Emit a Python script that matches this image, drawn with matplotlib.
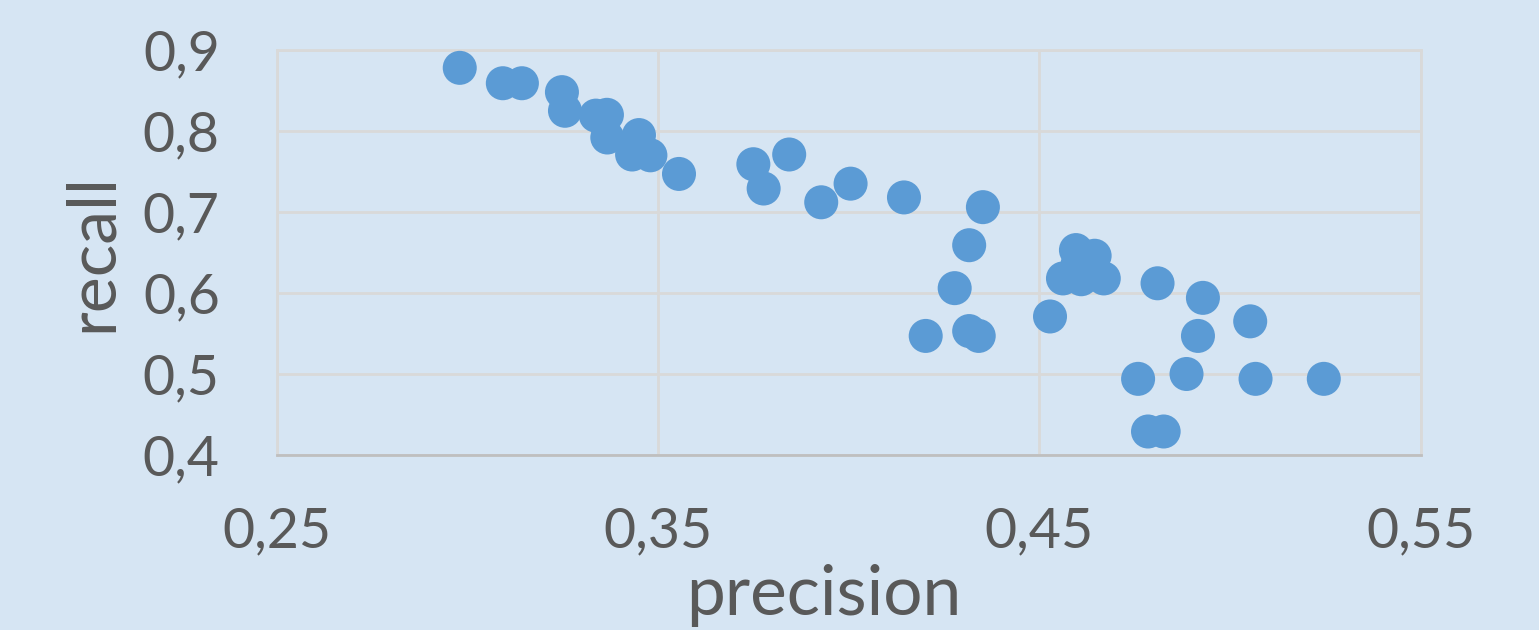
import matplotlib
import matplotlib.pyplot as plt

matplotlib.use("Agg")

precision = [0.298, 0.3093, 0.3143, 0.3248, 0.3256, 0.3337, 0.3366, 0.3367,
             0.345, 0.3432, 0.348, 0.3555,
             0.3750, 0.3844, 0.3777, 0.3928, 0.4005, 0.4145, 0.4352, 0.4316,
             0.4278, 0.4202, 0.4316, 0.4341,
             0.4528, 0.4596, 0.4645, 0.4562, 0.4610, 0.4669, 0.4600,
             0.4810, 0.4929, 0.4916, 0.5053, 0.4759, 0.4886, 0.5067, 0.5246,
             0.4785, 0.4826]
recall = [0.878, 0.859, 0.859, 0.848, 0.825, 0.819, 0.820, 0.792,
          0.795, 0.771, 0.770, 0.747,
          0.759, 0.771, 0.729, 0.712, 0.735, 0.718, 0.706, 0.659,
          0.606, 0.547, 0.553, 0.547,
          0.571, 0.653, 0.646, 0.618, 0.617, 0.618, 0.635,
          0.612, 0.594, 0.547, 0.565, 0.494, 0.500, 0.494, 0.494,
          0.429, 0.429]

x_ticks = [0.25, 0.35, 0.45, 0.55]
y_ticks = [0.4, 0.5, 0.6, 0.7, 0.8, 0.9]

bg = "#D6E5F3"
text_col = "#595959"
grid_col = "#D9D9D9"

plt.rcParams['font.family'] = ['Lato', 'DejaVu Sans']

fig = plt.figure(figsize=(15.39, 6.3), dpi=100, facecolor=bg)
ax = fig.add_axes([0.1798, 0.2778, 0.9231 - 0.1798, 0.9206 - 0.2778])
ax.set_facecolor(bg)

ax.scatter(precision, recall, s=600, color="#5B9BD5", edgecolors="none", zorder=3)

ax.set_xlim(0.25, 0.55)
ax.set_ylim(0.4, 0.9)
ax.set_xticks(x_ticks)
ax.set_yticks(y_ticks)
ax.set_xticklabels([f"{v:.2f}".replace(".", ",") for v in x_ticks])
ax.set_yticklabels([f"{v:.1f}".replace(".", ",") for v in y_ticks])

ax.grid(True, color=grid_col, linewidth=2, zorder=0)
for side in ["top", "right", "left"]:
    ax.spines[side].set_color(grid_col)
    ax.spines[side].set_linewidth(2)
ax.spines["bottom"].set_color("#BFBFBF")
ax.spines["bottom"].set_linewidth(2)

ax.tick_params(axis="both", length=0, labelsize=40, colors=text_col)
ax.tick_params(axis="y", pad=41)
ax.tick_params(axis="x", pad=37)

ax.set_xlabel("precision", fontsize=50, color=text_col)
ax.xaxis.set_label_coords(0.478, -0.27)
ax.set_ylabel("recall", fontsize=49, color=text_col, labelpad=14)

fig.savefig("out.png", dpi=100, facecolor=bg)
